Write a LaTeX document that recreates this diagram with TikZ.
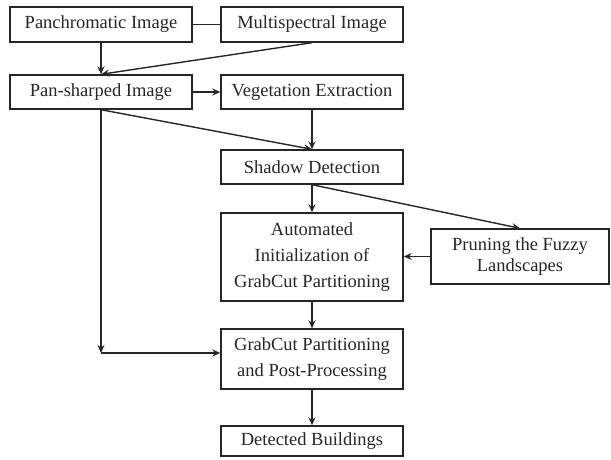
\documentclass[tikz,border=0pt]{standalone}
\usepackage{fontspec}
\setmainfont{Liberation Serif}
\usetikzlibrary{arrows.meta}

\tikzset{
  blk/.style={draw, line width=1.4pt, minimum width=182pt, align=center,
    inner sep=0pt, text=black!85, font=\fontsize{18.5}{21.5}\selectfont},
  flow/.style={line width=1.4pt, -{Stealth[length=8pt,width=7pt]}}
}

\begin{document}
\begin{tikzpicture}[x=1pt,y=-1pt,draw=black!85]
\useasboundingbox (0,0) rectangle (611,459);
% inputs
\node [blk, minimum height=35pt] (pan)   at (101,24.5)  {Panchromatic Image};
\node [blk, minimum height=35pt] (multi) at (312,24.5)  {Multispectral Image};
\node [blk, minimum height=34pt] (sharp) at (101,92)    {Pan-sharped Image};
\node [blk, minimum height=34pt] (veg)   at (312,92)    {Vegetation Extraction};
% main column
\node [blk, minimum height=34pt] (shadow) at (312,167)  {Shadow Detection};
\node [blk, minimum height=88pt, font=\fontsize{18.5}{26}\selectfont] (auto) at (312,257)
  {Automated\\Initialization of\\GrabCut Partitioning};
\node [blk, minimum height=55pt, minimum width=178pt] (prune) at (520,256.5)
  {Pruning the Fuzzy\\Landscapes};
\node [blk, minimum height=60pt, font=\fontsize{18.5}{26}\selectfont] (grab) at (312,359)
  {GrabCut Partitioning\\and Post-Processing};
\node [blk, minimum height=30pt] (det)    at (312,441)  {Detected Buildings};
\coordinate (corner) at (101,353);
% connectors
\draw [line width=1.4pt] (pan.east) -- (multi.west);
\draw [flow] (pan.south) -- (sharp.north);
\draw [flow] (multi.south) -- (sharp.north);
\draw [flow] (sharp.east) -- (veg.west);
\draw [flow] (veg.south) -- (shadow.north);
\draw [flow] (sharp.south) -- (shadow.north);
\draw [flow] (shadow.south) -- (auto.north);
\draw [flow] (shadow.south) -- (prune.north);
\draw [flow] (prune.west) -- (auto.east |- prune.west);
\draw [flow] (auto.south) -- (grab.north);
\draw [flow] (grab.south) -- (det.north);
\draw [flow] (sharp.south) -- (corner);
\draw [flow] (corner) -- (corner -| grab.west);
\end{tikzpicture}
\end{document}
